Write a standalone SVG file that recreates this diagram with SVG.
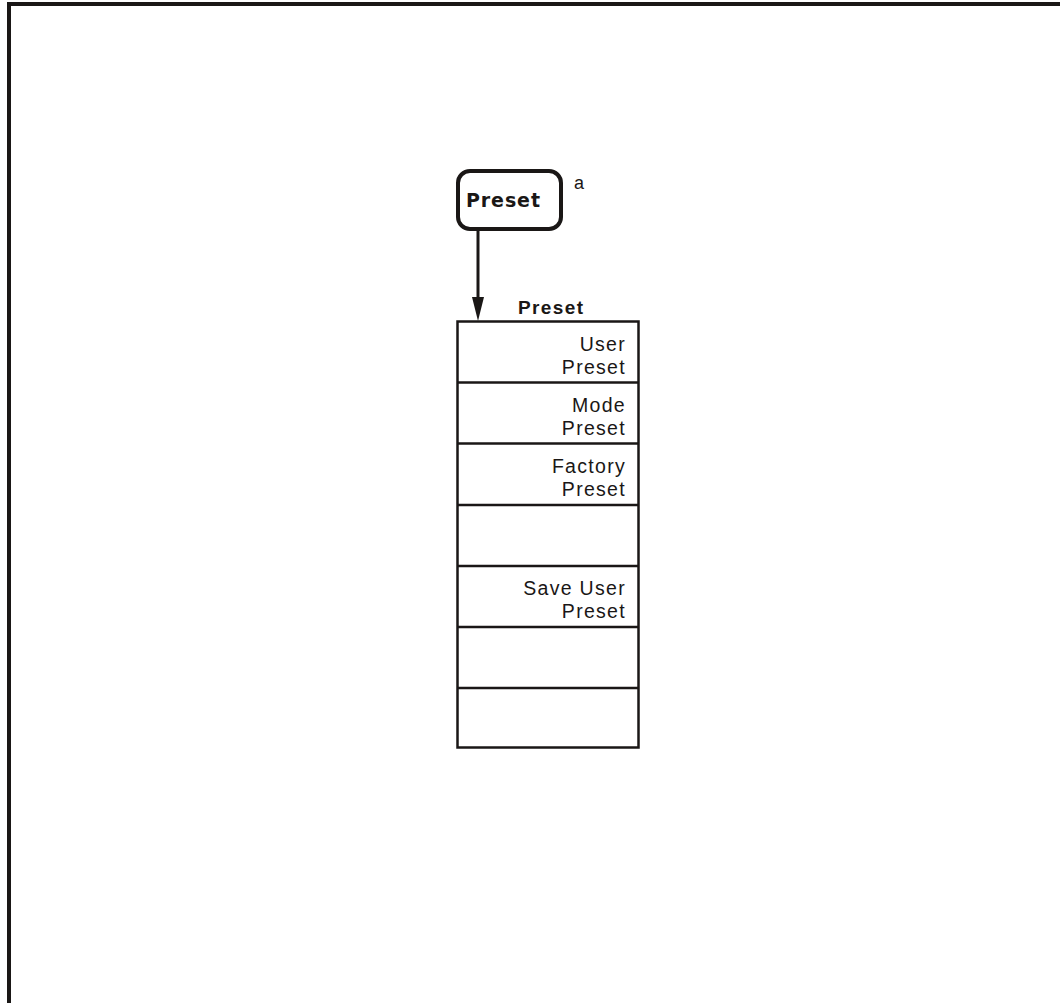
<svg xmlns="http://www.w3.org/2000/svg" width="1060" height="1003" viewBox="0 0 1060 1003">
<defs>
<style>
.frame{fill:none;stroke:#1a1716;stroke-width:4}
.box{fill:#fff;stroke:#1a1716;stroke-width:2.5}
.div{stroke:#1a1716;stroke-width:2.5}
.lbl{font-family:"Liberation Sans",Arial,sans-serif;font-size:19.5px;letter-spacing:1.3px;fill:#1a1716;text-anchor:end}
.title{font-family:"Liberation Sans",Arial,sans-serif;font-weight:bold;font-size:19px;letter-spacing:1.4px;fill:#1a1716}
.key{font-family:"DejaVu Sans",sans-serif;font-weight:bold;font-size:19px;letter-spacing:0.9px;fill:#1a1716}
</style>
</defs>
<rect width="1060" height="1003" fill="#fff"/>
<path class="frame" d="M9,1003 L9,4 L1060,4"/>
<g id="key-preset">
<rect x="458" y="171" width="103" height="58" rx="12" ry="12" fill="#fff" stroke="#1a1716" stroke-width="4"/>
<text class="key" x="466" y="207">Preset</text>
<text x="574" y="189" font-family="Liberation Sans,Arial,sans-serif" font-size="18" fill="#1a1716">a</text>
</g>
<g id="connectors">
<line x1="478" y1="231" x2="478" y2="298" stroke="#1a1716" stroke-width="3"/>
<path d="M472,297 L484,297 L478,321 Z" fill="#1a1716"/>
</g>
<g id="menu-preset">
<text class="title" x="518" y="314">Preset</text>
<rect class="box" x="457.5" y="321.5" width="181" height="426"/>
<line class="div" x1="457.5" y1="382.5" x2="638.5" y2="382.5"/>
<line class="div" x1="457.5" y1="443.5" x2="638.5" y2="443.5"/>
<line class="div" x1="457.5" y1="505" x2="638.5" y2="505"/>
<line class="div" x1="457.5" y1="566" x2="638.5" y2="566"/>
<line class="div" x1="457.5" y1="627" x2="638.5" y2="627"/>
<line class="div" x1="457.5" y1="688" x2="638.5" y2="688"/>
<text class="lbl" x="626" y="350.5">User</text>
<text class="lbl" x="626" y="373.5">Preset</text>
<text class="lbl" x="626" y="411.5">Mode</text>
<text class="lbl" x="626" y="434.5">Preset</text>
<text class="lbl" x="626" y="472.5">Factory</text>
<text class="lbl" x="626" y="495.5">Preset</text>
<text class="lbl" x="626" y="594.5">Save User</text>
<text class="lbl" x="626" y="617.5">Preset</text>
</g>
</svg>
